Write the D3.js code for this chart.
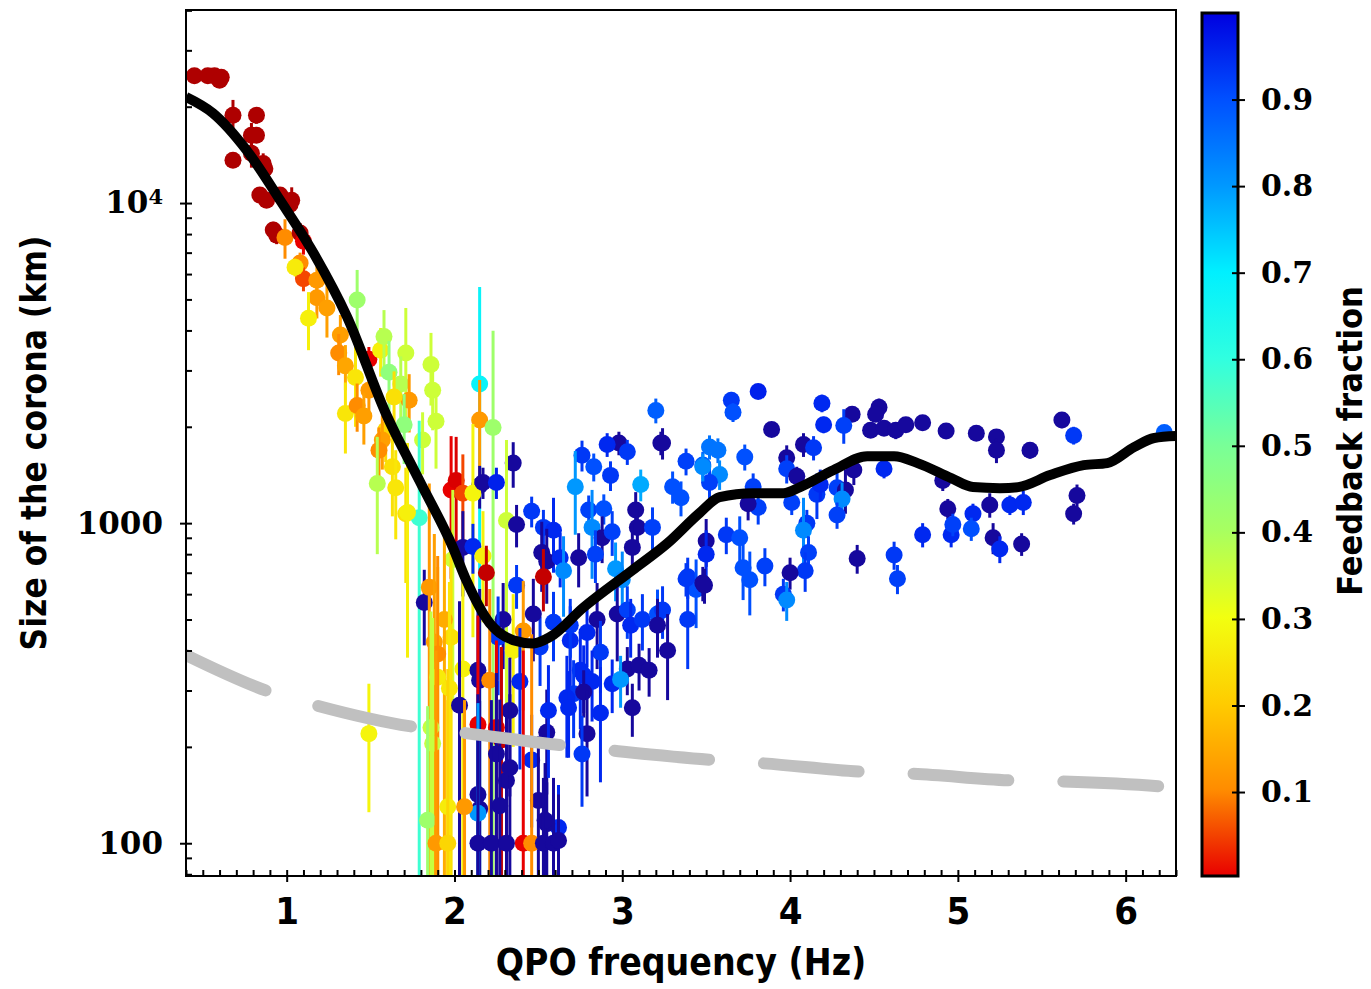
<!DOCTYPE html>
<html>
<head>
<meta charset="utf-8">
<script src="https://cdn.jsdelivr.net/npm/d3@7"></script>
<style>
  body { margin: 0; background: #fff; }
</style>
</head>
<body>
<svg id="chart" width="1371" height="989"></svg>
<script>

// ---- observed QPOs: frequency (Hz), corona size (km), size error (km), feedback fraction ----
const qpoFreq = [
  0.45, 0.53, 0.57, 0.61, 0.60, 0.68, 0.82, 0.79, 0.82, 0.68,
  0.79, 0.86, 0.87, 0.84, 0.88, 0.96, 1.03, 1.02, 0.92, 0.94,
  0.99, 1.08, 1.10, 1.06, 1.08, 1.10, 1.05, 1.18, 1.18, 1.13,
  1.24, 1.32, 1.42, 1.31, 1.35, 1.41, 1.49, 1.56, 1.58, 1.61,
  1.71, 1.86, 1.87, 1.68, 1.73, 1.64, 1.49, 1.35, 1.42, 1.46,
  1.59, 1.70, 1.81, 1.57, 1.55, 1.63, 1.54, 1.65, 1.71, 1.79,
  1.89, 1.49,
  2.15, 2.15, 2.23, 1.98, 2.01, 2.05, 2.15, 2.11, 2.05, 1.99,
  2.35, 2.17, 2.25, 2.31, 2.37, 2.11, 2.17, 2.19, 1.82, 1.72,
  1.85, 1.88, 1.98, 1.94, 2.05, 1.90, 1.90, 1.97, 1.86, 1.87,
  2.76, 2.83, 2.93, 2.72, 3.11, 3.30, 3.35, 3.38, 3.23, 2.98,
  2.91, 3.03, 2.46, 2.53, 2.59, 2.80, 2.89, 2.82, 2.88, 2.94,
  3.08, 3.09, 3.18, 3.06, 2.52, 2.55, 2.63, 2.65, 2.74, 2.84,
  2.53, 2.37, 2.29, 2.26, 2.35, 2.41, 2.51, 2.47, 2.59, 2.69,
  2.85, 2.87, 2.96, 3.00, 2.97, 3.03, 3.05, 3.12, 3.21, 3.24,
  3.21, 3.27, 3.39, 3.44, 3.39, 2.69, 2.79, 3.20, 3.24,
  3.03, 3.10, 3.16, 2.94, 2.99, 2.75, 2.77, 2.82, 2.71, 2.67,
  2.68, 2.77, 2.87, 2.79, 3.06, 2.76, 2.62, 2.55, 2.55, 2.56,
  2.46, 2.39, 2.33, 2.14, 2.15, 2.21, 2.03, 2.14, 2.25, 2.28,
  2.25, 2.31, 2.33, 2.14, 2.15, 2.27, 2.14, 2.50, 2.54, 1.84,
  1.96, 2.06, 1.89, 1.96, 2.14, 2.22, 2.31, 2.41, 2.46, 2.53,
  2.59, 2.62,
  3.65, 3.66, 3.81, 3.48, 3.52, 3.57, 3.58, 3.52, 3.73, 3.78,
  3.81, 3.75, 3.62, 3.70, 3.50, 3.50, 3.72, 3.85, 3.38, 3.48,
  3.76, 3.89, 4.19, 4.20, 4.37, 4.32, 4.53, 4.51, 4.48, 4.56,
  4.63, 4.69, 4.79, 4.93, 5.11, 5.23, 5.23, 5.43, 5.62, 5.69,
  6.23, 3.98, 3.98, 4.04, 4.08, 4.14, 3.48, 4.01, 4.16, 4.18,
  4.28, 4.33, 4.31, 4.28, 4.38, 4.56, 4.91, 4.94, 5.09, 5.19,
  5.31, 5.39, 5.71, 5.69, 4.10, 4.08, 4.11, 4.09, 4.00, 3.96,
  3.98, 3.49, 4.40, 4.62, 4.64, 4.79, 4.96, 4.97, 5.08, 5.21,
  5.25, 5.38
];
const coronaSize = [
  25000, 25000, 25000, 24700, 24200, 18800, 18800, 16300, 16300, 13600,
  14300, 13300, 12800, 10600, 10200, 10600, 10200, 9900, 8240, 7940,
  7800, 8060, 7600, 6300, 6500, 5800, 6300, 5740, 5060, 4370,
  4700, 3870, 4980, 3400, 3100, 2850, 3250, 3470, 3830, 2960,
  3400, 3130, 2600, 2720, 2420, 2480, 2600, 2200, 2330, 2160,
  1950, 2030, 1820, 1820, 1690, 1500, 1330, 1290, 1070, 1040,
  2080, 220,
  2720, 2100, 1990, 1270, 1360, 1240, 1310, 1240, 840, 770,
  1540, 1340, 1340, 1020, 990, 845, 790, 700, 565, 1080,
  630, 425, 440, 500, 350, 330, 390, 305, 230, 205,
  1630, 1500, 1410, 1300, 1320, 1300, 1200, 1560, 1780, 1780,
  1760, 1670, 1090, 970, 950, 1100, 1110, 970, 900, 940,
  1100, 970, 970, 840, 810, 760, 780, 710, 780, 800,
  680, 640, 500, 440, 400, 460, 410, 520, 490, 430,
  500, 395, 720, 665, 520, 535, 480, 500, 520, 535,
  480, 400, 680, 620, 500, 480, 455, 2250, 1780,
  350, 360, 347, 315, 325, 347, 335, 320, 293, 285,
  265, 297, 255, 220, 265, 190, 112, 115, 222, 260,
  182, 320, 260, 347, 323, 323, 270, 235, 230, 210,
  190, 157, 172, 142, 128, 131, 124, 136, 118, 118,
  130, 130, 100, 100, 100, 100, 100, 100, 100, 100,
  100, 102,
  2420, 2220, 2580, 1520, 1730, 1690, 1420, 1340, 1610, 1300,
  1120, 1150, 920, 900, 880, 800, 725, 735, 670, 650,
  665, 1960, 2370, 2030, 2190, 2020, 2300, 2190, 1950, 1980,
  1950, 2030, 2060, 1940, 1910, 1860, 1690, 1690, 2100, 1880,
  1920, 1600, 1480, 1400, 1760, 1720, 1500, 1160, 1230, 1320,
  1290, 1270, 1190, 1060, 1465, 1480, 1360, 1110, 1070, 1140,
  1140, 1160, 1220, 1070, 1000, 950, 810, 710, 700, 600,
  575, 640, 775, 795, 670, 920, 920, 990, 960, 900,
  830, 860
];
const sizeErr = [
  700, 700, 700, 700, 700, 2200, 1100, 1500, 900, 700,
  1400, 1000, 900, 500, 500, 600, 1000, 600, 500, 500,
  1100, 600, 700, 500, 500, 500, 400, 600, 700, 900,
  900, 600, 1200, 500, 500, 850, 300, 600, 800, 750,
  1300, 800, 650, 600, 500, 500, 400, 550, 400, 400,
  400, 500, 400, 350, 300, 450, 530, 400, 420, 1050,
  600, 95,
  2750, 700, 2000, 600, 500, 400, 200, 800, 250, 500,
  250, 150, 150, 800, 150, 150, 300, 150, 150, 700,
  700, 500, 500, 500, 400, 400, 400, 350, 300, 300,
  180, 150, 150, 380, 150, 150, 150, 150, 150, 150,
  150, 150, 120, 130, 250, 120, 120, 300, 150, 150,
  150, 130, 150, 150, 200, 200, 150, 200, 150, 150,
  150, 100, 150, 150, 200, 200, 100, 150, 120, 120,
  150, 100, 150, 150, 150, 100, 100, 100, 100, 100,
  100, 120, 100, 150, 150, 100, 100, 200, 200,
  60, 60, 60, 60, 60, 120, 80, 80, 80, 100,
  80, 50, 100, 80, 50, 60, 40, 40, 80, 100,
  70, 150, 120, 250, 300, 300, 300, 280, 200, 200,
  150, 100, 120, 150, 150, 150, 150, 80, 60, 150,
  150, 150, 300, 250, 120, 180, 120, 300, 350, 60,
  60, 40,
  150, 150, 120, 150, 150, 150, 150, 150, 150, 130,
  130, 130, 120, 150, 150, 150, 150, 100, 80, 80,
  150, 100, 150, 120, 100, 250, 150, 100, 100, 100,
  120, 100, 100, 100, 100, 100, 150, 100, 120, 120,
  100, 150, 150, 100, 150, 150, 150, 100, 200, 150,
  150, 200, 150, 100, 150, 100, 100, 80, 80, 100,
  80, 100, 100, 80, 100, 250, 100, 100, 80, 70,
  80, 80, 80, 80, 70, 80, 80, 80, 80, 100,
  80, 70
];
const feedback = [
  -0.08, -0.08, -0.08, -0.08, -0.08, -0.08, -0.08, -0.08, -0.08, -0.08,
  -0.08, -0.08, -0.08, -0.08, -0.08, -0.08, -0.08, -0.08, -0.08, -0.08,
  0.10, -0.08, 0.00, 0.05, 0.10, 0.05, 0.26, 0.12, 0.12, 0.27,
  0.13, 0.13, 0.42, 0.10, 0.14, 0.25, 0.00, 0.27, 0.38, 0.45,
  0.35, 0.35, 0.35, 0.38, 0.12, 0.24, 0.12, 0.25, 0.10, 0.13,
  0.22, 0.45, 0.35, 0.13, 0.10, 0.24, 0.38, 0.25, 0.24, 0.58,
  0.35, 0.28,
  0.68, 0.12, 0.42, 0.00, -0.02, 0.05, 1.08, 0.28, 1.08, 0.35,
  1.08, 1.08, 0.96, 0.35, 1.08, 0.95, 0.27, -0.05, 1.08, 0.27,
  0.12, 0.13, 0.24, 0.15, 0.27, 0.26, 0.10, 0.25, 0.36, 0.36,
  0.93, 0.90, 0.93, 0.80, 0.78, 0.90, 0.90, 0.92, 1.08, 1.08,
  0.95, 0.93, 0.93, 0.93, 0.95, 0.92, 0.90, 0.82, 1.08, 0.92,
  1.08, 1.08, 0.92, 1.08, 1.08, 1.08, 0.95, 0.82, 1.08, 0.92,
  -0.05, 0.93, 1.08, 0.93, 0.27, 0.12, 0.93, 1.08, 0.93, 0.95,
  1.08, 0.93, 0.80, 0.82, 1.08, 0.92, 0.95, 0.93, 0.90, 0.93,
  1.08, 1.08, 0.93, 0.90, 0.93, 0.93, 0.95, 0.88, 1.08,
  1.08, 1.08, 1.08, 0.95, 0.80, 0.95, 0.95, 0.95, 0.93, 0.95,
  0.95, 1.08, 0.95, 1.08, 1.08, 0.93, 0.95, 1.08, 1.08, 0.95,
  0.95, 0.95, 1.08, 1.08, 1.08, 0.10, 1.08, 0.00, 0.00, -0.05,
  1.08, 1.08, 1.08, 1.08, 1.08, 1.08, 0.80, 1.08, 1.08, 0.42,
  0.26, 0.12, 0.12, 0.22, 1.08, 1.08, 1.08, 0.00, 0.10, 1.08,
  1.08, 1.08,
  0.93, 0.90, 0.96, 0.88, 0.85, 0.85, 0.82, 0.92, 0.90, 0.92,
  0.92, 1.08, 0.93, 0.90, 1.08, 0.95, 0.90, 0.92, 0.93, 1.08,
  0.90, 1.08, 0.95, 0.95, 1.08, 0.92, 1.08, 1.08, 1.08, 1.08,
  1.08, 1.08, 1.08, 1.08, 1.08, 1.08, 1.08, 1.08, 1.08, 0.93,
  0.88, 1.08, 0.92, 1.08, 1.08, 0.93, 0.82, 0.92, 0.93, 0.95,
  0.92, 1.08, 0.82, 0.92, 1.08, 0.95, 1.08, 1.08, 0.95, 1.08,
  0.95, 0.95, 1.08, 1.08, 0.93, 0.82, 0.92, 0.93, 1.08, 0.93,
  0.82, 1.08, 1.08, 0.93, 0.92, 0.95, 0.95, 0.92, 0.90, 1.08,
  0.95, 1.08
];

// ---- model curve (black) ----
const modelFreq = [0.40, 0.56, 0.76, 0.96, 1.16, 1.36, 1.59, 1.79, 1.99, 2.07,
  2.21, 2.35, 2.47, 2.57, 2.77, 3.06, 3.27, 3.46, 3.58, 3.78,
  3.96, 4.06, 4.26, 4.46, 4.62, 4.76, 4.96, 5.09, 5.25, 5.36,
  5.55, 5.75, 5.89, 6.05, 6.17, 6.30];
const modelSize = [21450, 19100, 14650, 10220, 6980, 4410, 2207, 1361, 841, 664,
  487, 431, 421, 441, 546, 713, 866, 1075, 1206, 1241,
  1241, 1296, 1465, 1619, 1619, 1540, 1383, 1296, 1286, 1296,
  1413, 1518, 1540, 1728, 1845, 1871];

// ---- lower limit curve (grey dashed) ----
const limitFreq = [0.40, 0.90, 1.17, 1.78, 2.03, 2.65, 2.93, 3.54, 3.82, 4.45, 4.72, 5.34, 5.61, 6.24, 6.30];
const limitSize = [387, 297, 270, 230, 222, 202, 195, 182, 178, 167, 165, 157, 156, 150, 149];

// ---- axes and colour bar ----
const xTicks = [1, 2, 3, 4, 5, 6];
const yTicks = [100, 1000, 10000];
const yMinor = [80, 90, 200, 300, 400, 500, 600, 700, 800, 900,
  2000, 3000, 4000, 5000, 6000, 7000, 8000, 9000, 20000, 30000, 40000];
const cbTicks = [0.1, 0.2, 0.3, 0.4, 0.5, 0.6, 0.7, 0.8, 0.9];
const cmapStops  = [-0.1, 0.0, 0.1, 0.2, 0.3, 0.4, 0.5, 0.6, 0.7, 0.8, 0.9, 1.0, 1.1];
const cmapColors = ['#a00000', '#e80000', '#ff8c00', '#ffcc00', '#f2ff10', '#a8ff60',
  '#78ff98', '#30ffe0', '#00f0ff', '#0098ff', '#0050ff', '#0000e0', '#1c0a8c'];


const svg = d3.select('#chart');

const x = d3.scaleLinear().domain([0.4, 6.3]).range([186, 1176]);
const y = d3.scaleLog().domain([79, 40100]).range([876, 10]);
const color = d3.scaleLinear().domain(cmapStops).range(cmapColors).clamp(true);

const sansC = "'DejaVu Sans Condensed', 'DejaVu Sans', sans-serif";
const narrow = "'Liberation Sans Narrow', 'DejaVu Sans Condensed', sans-serif";
const serif = "'DejaVu Serif', serif";

const defs = svg.append('defs');
defs.append('clipPath').attr('id', 'plotClip')
  .append('rect').attr('x', 186).attr('y', 10).attr('width', 990).attr('height', 866);

// points with error bars
const pts = qpoFreq.map((f, i) => ({f: f, s: coronaSize[i], e: sizeErr[i], c: feedback[i]}));

const plot = svg.append('g').attr('clip-path', 'url(#plotClip)');

const pg = plot.selectAll('g.pt')
  .data(pts)
  .join('g')
    .attr('class', 'pt');

pg.append('line')
  .attr('x1', d => x(d.f))
  .attr('x2', d => x(d.f))
  .attr('y1', d => (d.s - d.e) > 1 ? y(d.s - d.e) : 900)
  .attr('y2', d => y(d.s + d.e))
  .attr('stroke', d => color(d.c))
  .attr('stroke-width', 3);

pg.append('circle')
  .attr('cx', d => x(d.f))
  .attr('cy', d => y(d.s))
  .attr('r', 8.5)
  .attr('fill', d => color(d.c));

// grey dashed limit
const limitLine = d3.line()
  .x(d => x(d[0]))
  .y(d => y(d[1]))
  .curve(d3.curveMonotoneX);

plot.append('path')
  .datum(limitFreq.map((f, i) => [f, limitSize[i]]))
  .attr('d', limitLine)
  .attr('fill', 'none')
  .attr('stroke', '#c0c0c0')
  .attr('stroke-width', 12)
  .attr('stroke-linecap', 'round')
  .attr('stroke-dasharray', '95 55')
  .attr('stroke-dashoffset', 8);

// black model curve
plot.append('path')
  .datum(modelFreq.map((f, i) => [f, modelSize[i]]))
  .attr('d', limitLine)
  .attr('fill', 'none')
  .attr('stroke', '#000')
  .attr('stroke-width', 10)
  .attr('stroke-linejoin', 'round');

// frame
svg.append('rect')
  .attr('x', 186).attr('y', 10).attr('width', 990).attr('height', 866)
  .attr('fill', 'none').attr('stroke', '#000').attr('stroke-width', 2);

// x axis
const xMinor = d3.range(0.4, 6.31, 0.1).map(v => Math.round(v * 10) / 10).filter(v => v % 1 !== 0);

svg.append('g')
  .attr('transform', 'translate(0,876)')
  .call(d3.axisBottom(x).tickValues(xMinor).tickSize(-6).tickFormat('').tickSizeOuter(0))
  .call(g => g.select('.domain').remove())
  .call(g => g.selectAll('line').attr('stroke-width', 2));

svg.append('g')
  .attr('transform', 'translate(0,876)')
  .call(d3.axisBottom(x).tickValues(xTicks).tickSize(6).tickPadding(15).tickFormat(d3.format('d')).tickSizeOuter(0))
  .call(g => g.select('.domain').remove())
  .call(g => g.selectAll('line').attr('y1', -6).attr('y2', 6).attr('stroke-width', 2))
  .call(g => g.selectAll('text')
    .attr('font-family', narrow).attr('font-weight', 'bold').attr('font-size', 38).attr('fill', '#000'));

// y axis
svg.append('g')
  .attr('transform', 'translate(186,0)')
  .call(d3.axisLeft(y).tickValues(yMinor).tickSize(-6).tickFormat('').tickSizeOuter(0))
  .call(g => g.select('.domain').remove())
  .call(g => g.selectAll('line').attr('stroke-width', 2));

const yAx = svg.append('g')
  .attr('transform', 'translate(186,0)')
  .call(d3.axisLeft(y).tickValues(yTicks).tickSize(6).tickPadding(17).tickFormat(d => d === 10000 ? '' : String(d)).tickSizeOuter(0))
  .call(g => g.select('.domain').remove())
  .call(g => g.selectAll('line').attr('x1', -6).attr('x2', 6).attr('stroke-width', 2))
  .call(g => g.selectAll('text')
    .attr('font-family', serif).attr('font-weight', 'bold').attr('font-size', 31).attr('fill', '#000'));

yAx.selectAll('.tick').filter(d => d === 10000).select('text')
  .call(t => {
    t.append('tspan').text('10');
    t.append('tspan').attr('dy', '-0.45em').attr('font-size', 21).text('4');
  });

// axis titles
svg.append('text')
  .attr('x', 681).attr('y', 975)
  .attr('text-anchor', 'middle')
  .attr('font-family', sansC).attr('font-weight', 'bold').attr('font-size', 37)
  .text('QPO frequency (Hz)');

svg.append('text')
  .attr('transform', 'translate(46,443) rotate(-90)')
  .attr('text-anchor', 'middle')
  .attr('font-family', sansC).attr('font-weight', 'bold').attr('font-size', 35)
  .text('Size of the corona (km)');

// colour bar
const cb = d3.scaleLinear().domain([0.003, 1.0]).range([876, 13]);

const grad = defs.append('linearGradient')
  .attr('id', 'cbGrad')
  .attr('x1', 0).attr('y1', 1).attr('x2', 0).attr('y2', 0);
grad.selectAll('stop')
  .data(d3.range(0, 1.001, 0.02))
  .join('stop')
    .attr('offset', d => d)
    .attr('stop-color', d => color(d));

svg.append('rect')
  .attr('x', 1202).attr('y', cb(1.0)).attr('width', 36).attr('height', cb(0.003) - cb(1.0))
  .attr('fill', 'url(#cbGrad)')
  .attr('stroke', '#000').attr('stroke-width', 3);

svg.append('g')
  .attr('transform', 'translate(1238,0)')
  .call(d3.axisRight(cb).tickValues(cbTicks).tickSize(7).tickPadding(16).tickFormat(d3.format('.1f')).tickSizeOuter(0))
  .call(g => g.select('.domain').remove())
  .call(g => g.selectAll('line').attr('x1', -6).attr('x2', 7).attr('stroke-width', 2))
  .call(g => g.selectAll('text')
    .attr('font-family', serif).attr('font-weight', 'bold').attr('font-size', 30).attr('fill', '#000'));

svg.append('text')
  .attr('transform', 'translate(1362,441) rotate(-90)')
  .attr('text-anchor', 'middle')
  .attr('font-family', sansC).attr('font-weight', 'bold').attr('font-size', 34)
  .text('Feedback fraction');

</script>
</body>
</html>
